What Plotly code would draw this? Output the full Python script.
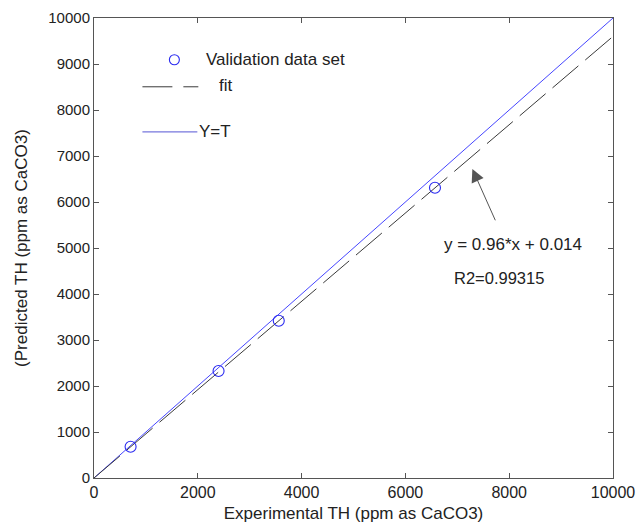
import plotly.graph_objects as go

# ---- data ----
exp_th = [705, 2400, 3560, 6570]          # Experimental TH
pred_th = [680, 2325, 3420, 6310]         # Predicted TH
fit_slope = 0.96
fit_intercept = 0.014
line_x = [0, 10000]
x_ticks = [0, 2000, 4000, 6000, 8000, 10000]
y_ticks = [0, 1000, 2000, 3000, 4000, 5000, 6000, 7000, 8000, 9000, 10000]
fit_y = [fit_slope * v + fit_intercept for v in line_x]

FONT = "Liberation Sans, Arial, sans-serif"
BLUE = "#2b2bf0"
DARK = "#3a3a3a"

fig = go.Figure()
fig.add_trace(go.Scatter(x=line_x, y=line_x, mode="lines",
                         line=dict(color="#4646ff", width=1), name="Y=T", showlegend=False))
fig.add_trace(go.Scatter(x=line_x, y=fit_y, mode="lines",
                         line=dict(color=DARK, width=1, dash="34px,9px"), name="fit", showlegend=False))
fig.add_trace(go.Scatter(x=exp_th, y=pred_th, mode="markers",
                         marker=dict(symbol="circle-open", size=11, color=BLUE, line=dict(width=1.1)),
                         name="Validation data set", showlegend=False))

# plot area geometry for manual legend (paper coords)
L, R, T, B = 93.5, 613.3, 18.3, 477.7
def px(xp):
    return (xp - L) / (R - L)
def py(yp):
    return (B - yp) / (B - T)

shapes = [
    dict(type="circle", xref="paper", yref="paper",
         x0=px(169), x1=px(179), y0=py(55), y1=py(65),
         line=dict(color=BLUE, width=1.1)),
    dict(type="line", xref="paper", yref="paper", x0=px(142), x1=px(172), y0=py(87), y1=py(87),
         line=dict(color=DARK, width=1)),
    dict(type="line", xref="paper", yref="paper", x0=px(183), x1=px(198), y0=py(87), y1=py(87),
         line=dict(color=DARK, width=1)),
    dict(type="line", xref="paper", yref="paper", x0=px(142), x1=px(197), y0=py(132), y1=py(132),
         line=dict(color="#7777dd", width=1.2)),
]

annotations = [
    dict(text="Validation data set", xref="paper", yref="paper", x=px(204), y=py(60),
         xanchor="left", yanchor="middle", showarrow=False, font=dict(size=17, color="#222")),
    dict(text="fit", xref="paper", yref="paper", x=px(217), y=py(86),
         xanchor="left", yanchor="middle", showarrow=False, font=dict(size=17, color="#222")),
    dict(text="Y=T", xref="paper", yref="paper", x=px(197), y=py(132),
         xanchor="left", yanchor="middle", showarrow=False, font=dict(size=17, color="#222")),
    dict(text="y = 0.96*x + 0.014", x=8080, y=5070, xref="x", yref="y",
         showarrow=False, font=dict(size=17, color="#222")),
    dict(text="R2=0.99315", x=7810, y=4340, xref="x", yref="y",
         showarrow=False, font=dict(size=16.5, color="#222")),
    dict(text="", x=7290, y=6720, ax=7745, ay=5570, xref="x", yref="y", axref="x", ayref="y",
         showarrow=True, arrowhead=2, arrowsize=2.6, arrowwidth=1, arrowcolor="#555"),
]

axis_common = dict(range=[0, 10000], showgrid=False, zeroline=False, showline=True,
                   linecolor="#555", linewidth=1, mirror="ticks", ticks="inside",
                   ticklen=5, tickcolor="#555", automargin=False)

fig.update_layout(
    width=639, height=525,
    margin=dict(l=93.5, r=25.7, t=18.3, b=47.3),
    paper_bgcolor="white", plot_bgcolor="white",
    font=dict(family=FONT, color="#222"),
    shapes=shapes, annotations=annotations,
    showlegend=False,
    xaxis=dict(**axis_common, tickvals=x_ticks, ticktext=[str(v) for v in x_ticks],
               tickfont=dict(size=16, color="#222"),
               title=dict(text="Experimental TH (ppm as CaCO3)", font=dict(size=17), standoff=6)),
    yaxis=dict(**axis_common, tickvals=y_ticks, ticktext=[str(v) for v in y_ticks],
               tickfont=dict(size=15, color="#222"),
               title=dict(text="(Predicted TH (ppm as CaCO3)", font=dict(size=17), standoff=16)),
)

fig.write_html("out.html", config={"displayModeBar": False},
               post_script="document.body.style.margin='0';document.body.style.overflow='hidden';")
